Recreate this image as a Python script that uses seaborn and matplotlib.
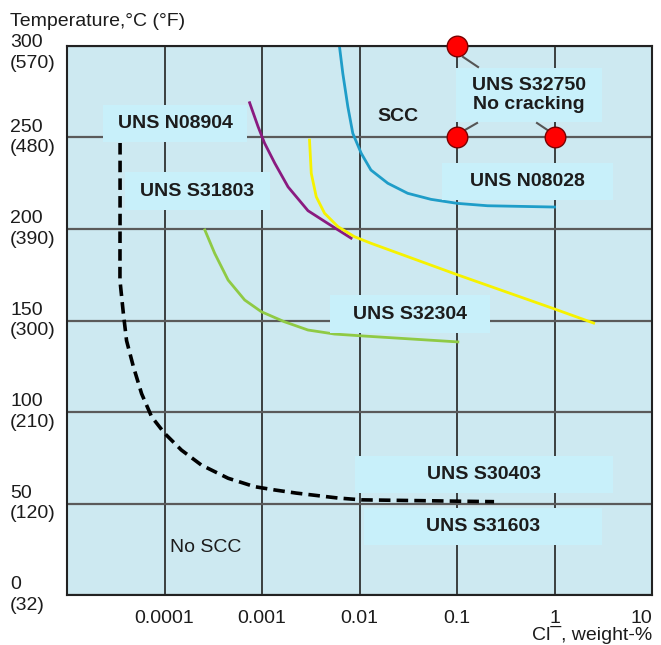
import pandas as pd
import seaborn as sns
import matplotlib.pyplot as plt
from matplotlib.patches import Rectangle
from matplotlib.ticker import NullLocator
from matplotlib.transforms import ScaledTranslation

# curves: chloride (weight-%) vs temperature (deg C)
s30403_cl = [3.5e-5, 3.5e-5, 3.49e-5, 3.78e-5, 4.08e-5, 4.78e-5, 5.82e-5, 7.37e-5,
             1.0e-4, 1.49e-4, 2.39e-4, 4.49e-4, 8.4e-4, 1.35e-3, 2.24e-3,
             6.0e-3, 1.05e-2, 0.24]
s30403_t = [247, 216, 172, 154, 139, 125, 110, 97.4, 88.4, 79.2, 71, 63.8,
            59.2, 57.4, 55.7, 53, 52, 51]

n08904_cl = [7.46e-4, 9.1e-4, 1.06e-3, 1.35e-3, 1.85e-3, 2.96e-3, 4.74e-3, 8.2e-3]
n08904_t = [269, 256, 247, 236, 223, 210, 203, 195]

s31803_cl = [3.07e-3, 3.2e-3, 3.6e-3, 4.38e-3, 6.0e-3, 8.87e-3, 1.31e-2, 0.102,
             1.0, 2.52]
s31803_t = [248.6, 230.4, 217.6, 208.6, 201.3, 195.8, 192.2, 174.9, 156.3, 148.6]

n08028_cl = [6.22e-3, 6.74e-3, 7.59e-3, 8.53e-3, 1.04e-2, 1.31e-2, 1.95e-2,
             3.12e-2, 5.41e-2, 0.101, 0.206, 1.0]
n08028_t = [300, 285, 266.8, 252.3, 241.4, 232.2, 225, 219.5, 216.2, 214,
            212.7, 212]

s32304_cl = [2.59e-4, 3.27e-4, 4.49e-4, 6.64e-4, 9.84e-4, 1.7e-3, 2.96e-3,
             5.54e-3, 1.12e-2, 0.102]
s32304_t = [199.5, 186.7, 172.1, 161.2, 154.8, 149.3, 144.8, 142.6, 141.5, 138.3]

# UNS S32750 test points, no cracking
s32750_cl = [0.1, 0.1, 1.0]
s32750_t = [300, 250, 250]

cl_ticks = [1e-4, 1e-3, 1e-2, 1e-1, 1, 10]
cl_labels = ["0.0001", "0.001", "0.01", "0.1", "1", "10"]
t_ticks = [0, 50, 100, 150, 200, 250, 300]
t_labels = ["0\n(32)", "50\n(120)", "100\n(210)", "150\n(300)",
            "200\n(390)", "250\n(480)", "300\n(570)"]

plt.rcParams["font.family"] = ["Liberation Sans", "DejaVu Sans"]
txt = "#1c1c1c"

fig, ax = plt.subplots(figsize=(6.61, 6.45), dpi=100)
fig.subplots_adjust(left=0.1014, right=0.9864, bottom=0.0775, top=0.9287)
ax.set_facecolor("#cde9f1")

curves = [
    (s30403_cl, s30403_t, "black", 2.6, (0, (3.2, 1.7))),
    (s32304_cl, s32304_t, "#8fca44", 2.0, "-"),
    (n08904_cl, n08904_t, "#8a1a80", 2.0, "-"),
    (s31803_cl, s31803_t, "#f6f200", 2.0, "-"),
    (n08028_cl, n08028_t, "#1f9dc8", 2.0, "-"),
]
for xs, ys, col, lw, ls in curves:
    df = pd.DataFrame({"cl": xs, "t": ys})
    sns.lineplot(data=df, x="cl", y="t", sort=False, estimator=None, ax=ax,
                 color=col, lw=lw, linestyle=ls, zorder=2)

sns.scatterplot(x=s32750_cl, y=s32750_t, ax=ax, color="#ff0000",
                edgecolor="#7a0000", linewidth=1, s=220, zorder=6, clip_on=False)

ax.set_xscale("log")
ax.set_xlim(1e-5, 10)
ax.set_ylim(0, 300)
ax.set_xticks(cl_ticks, labels=cl_labels)
ax.xaxis.set_minor_locator(NullLocator())
ax.set_yticks(t_ticks, labels=t_labels)
ax.set_xlabel("")
ax.set_ylabel("")
ax.tick_params(length=0, labelsize=14, labelcolor=txt)
ax.tick_params(axis="x", pad=11)
ax.tick_params(axis="y", pad=41)
for lbl in ax.get_yticklabels():
    lbl.set_ha("left")
    lbl.set_va("center")
    lbl.set_linespacing(1.3)
ax.get_xticklabels()[-1].set_ha("right")
# top label sits a little lower than its tick in the original
top_lbl = ax.get_yticklabels()[-1]
top_lbl.set_transform(top_lbl.get_transform()
                      + ScaledTranslation(0, -0.07, fig.dpi_scale_trans))

ax.set_axisbelow(True)
ax.xaxis.grid(True, color="#222222", lw=1.2)
ax.yaxis.grid(True, color="#5a5a5a", lw=1.6)
for sp in ax.spines.values():
    sp.set_color("#222222")
    sp.set_linewidth(1.5)

# label boxes, axes fraction
boxes = [
    ("UNS N08904", 0.0615, 0.825, 0.3077, 0.8925),
    ("UNS S31803", 0.0991, 0.701, 0.347, 0.7705),
    ("UNS S32750\nNo cracking", 0.665, 0.8616, 0.9145, 0.96),
    ("UNS N08028", 0.641, 0.7195, 0.933, 0.787),
    ("UNS S32304", 0.4496, 0.477, 0.723, 0.5464),
    ("UNS S30403", 0.4923, 0.1858, 0.933, 0.2532),
    ("UNS S31603", 0.5077, 0.0911, 0.9145, 0.1585),
]
for label, x0, y0, x1, y1 in boxes:
    ax.add_patch(Rectangle((x0, y0), x1 - x0, y1 - y0, transform=ax.transAxes,
                           fc="#c8f0fa", ec="none", zorder=3))
    ax.text((x0 + x1) / 2, (y0 + y1) / 2, label, transform=ax.transAxes,
            ha="center", va="center", fontsize=14, fontweight="bold",
            color=txt, zorder=4)

# leader lines from the test points to the S32750 box
for xa, ya, xb, yb in [(0.677, 0.98, 0.7026, 0.9617),
                       (0.677, 0.845, 0.7009, 0.8597),
                       (0.824, 0.845, 0.8034, 0.8597)]:
    ax.plot([xa, xb], [ya, yb], transform=ax.transAxes, color="#555555",
            lw=1.5, zorder=4)

ax.text(0.566, 0.8707, "SCC", transform=ax.transAxes, ha="center", va="center",
        fontsize=14, fontweight="bold", color=txt)
ax.text(0.2376, 0.0874, "No SCC", transform=ax.transAxes, ha="center",
        va="center", fontsize=14, color=txt)

fig.text(10 / 661, 1 - 22 / 645, "Temperature,°C (°F)", ha="left", va="center",
         fontsize=14, color=txt)
fig.text(652 / 661, 1 - 635 / 645, "Cl¯, weight-%", ha="right", va="center",
         fontsize=14, color=txt)

fig.savefig("out.png", dpi=100)
